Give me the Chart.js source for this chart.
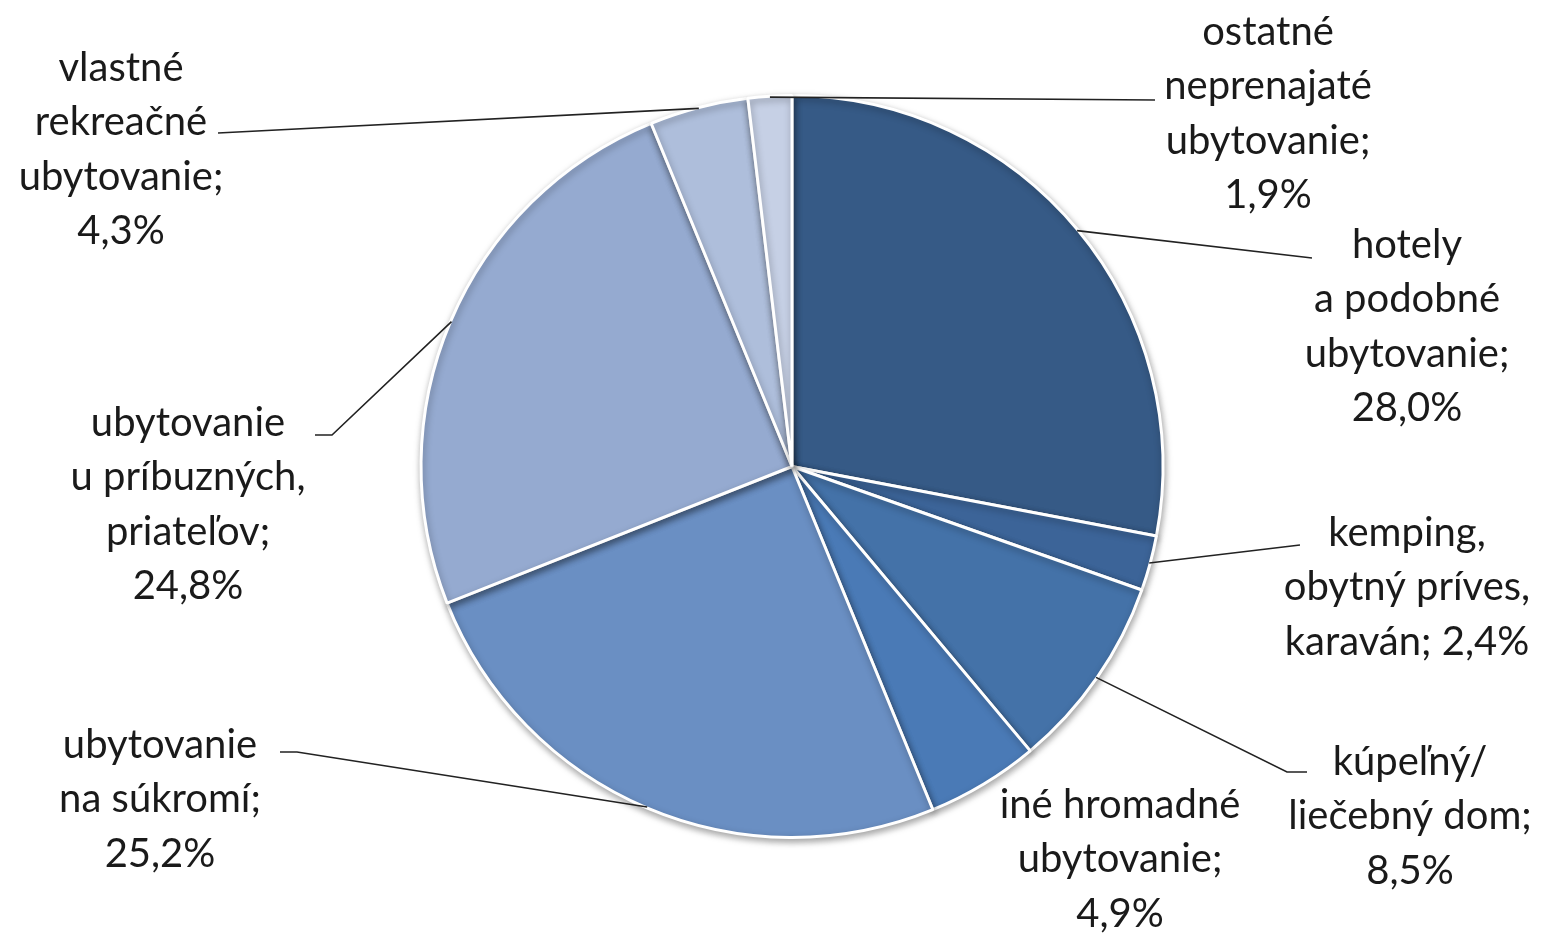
<!DOCTYPE html>
<html>
<head>
<meta charset="utf-8">
<script src="https://cdn.jsdelivr.net/npm/chart.js@4.4.1/dist/chart.umd.min.js"></script>
<style>
  html, body { margin: 0; padding: 0; background: #ffffff; }
  #wrap { width: 1544px; height: 936px; }
</style>
</head>
<body>
<div id="wrap"><canvas id="pieChart" width="1544" height="936"></canvas></div>
<script>
// Categories (label lines, {v} = value)
const categories = [
    ["hotely", "a podobné", "ubytovanie;", "{v}"],
    ["kemping,", "obytný príves,", "karaván; {v}"],
    ["kúpeľný/", "liečebný dom;", "{v}"],
    ["iné hromadné", "ubytovanie;", "{v}"],
    ["ubytovanie", "na súkromí;", "{v}"],
    ["ubytovanie", "u príbuzných,", "priateľov;", "{v}"],
    ["vlastné", "rekreačné", "ubytovanie;", "{v}"],
    ["ostatné", "neprenajaté", "ubytovanie;", "{v}"]
];
const shares = [28.0, 2.4, 8.5, 4.9, 25.2, 24.8, 4.3, 1.9];
const sliceColors = ["#365A86", "#3C6498", "#4472A8", "#4A7AB6", "#6A8FC3", "#95AAD0", "#AEBEDB", "#C6D0E5"];

// Where each label sits: text centre x, first line y, leader line points after the slice anchor
const labelLayout = [
    { x: 1407, y: 245, line: [[1312, 258]] },
    { x: 1407, y: 533, line: [[1300, 545]] },
    { x: 1410, y: 762, line: [[1287, 772], [1307, 772]] },
    { x: 1120, y: 805, line: null },
    { x: 160, y: 745, line: [[297, 752], [280, 752]] },
    { x: 188, y: 423, line: [[332, 435], [315, 435]] },
    { x: 121, y: 68, line: [[218, 133]] },
    { x: 1268, y: 32, line: [[1155, 100]] }
];
const lineHeight = 54.5;

function fmt(v) {
    return v.toFixed(1).replace(".", ",") + "%";
}

// Shadow under the pie
const pieShadow = {
    id: "pieShadow",
    beforeDatasetsDraw(chart) {
        const ctx = chart.ctx;
        ctx.save();
        ctx.shadowColor = "rgba(0,0,0,0.35)";
        ctx.shadowBlur = 7;
        ctx.shadowOffsetX = 1;
        ctx.shadowOffsetY = 3;
    },
    afterDatasetsDraw(chart) {
        chart.ctx.restore();
    }
};

// Outside labels with leader lines
const outsideLabels = {
    id: "outsideLabels",
    afterDraw(chart) {
        const ctx = chart.ctx;
        const arcs = chart.getDatasetMeta(0).data;
        ctx.save();
        arcs.forEach((arc, i) => {
            const lay = labelLayout[i];
            const mid = (arc.startAngle + arc.endAngle) / 2;
            const r = arc.outerRadius - 1;
            const ax = arc.x + Math.cos(mid) * r;
            const ay = arc.y + Math.sin(mid) * r;
            if (lay.line) {
                ctx.beginPath();
                ctx.moveTo(ax, ay);
                lay.line.forEach(p => ctx.lineTo(p[0], p[1]));
                ctx.strokeStyle = "#222222";
                ctx.lineWidth = 1.6;
                ctx.stroke();
            }
            ctx.fillStyle = "#1a1a1a";
            ctx.font = "40px Lato, 'Open Sans', sans-serif";
            ctx.textAlign = "center";
            ctx.textBaseline = "middle";
            categories[i].forEach((t, k) => {
                ctx.fillText(t.replace("{v}", fmt(shares[i])), lay.x, lay.y + k * lineHeight);
            });
        });
        ctx.restore();
    }
};

const ctx = document.getElementById("pieChart").getContext("2d");
new Chart(ctx, {
    type: "pie",
    data: {
        labels: categories.map(c => c.filter(t => t !== "{v}").join(" ")),
        datasets: [{
            data: shares,
            backgroundColor: sliceColors,
            borderColor: "#ffffff",
            borderWidth: 3
        }]
    },
    options: {
        responsive: false,
        animation: false,
        layout: { padding: { left: 40, right: 0, top: 94, bottom: 97 } },
        plugins: {
            legend: { display: false },
            tooltip: { enabled: false }
        }
    },
    plugins: [pieShadow, outsideLabels]
});
</script>
</body>
</html>
